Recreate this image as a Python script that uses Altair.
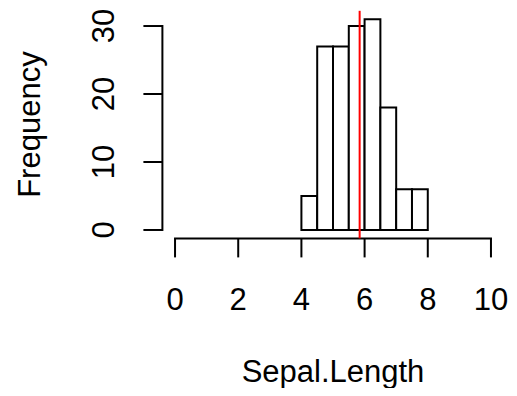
import altair as alt
import pandas as pd

# Histogram of Sepal.Length (iris)
bin_starts = [4.0, 4.5, 5.0, 5.5, 6.0, 6.5, 7.0, 7.5]
bin_ends = [4.5, 5.0, 5.5, 6.0, 6.5, 7.0, 7.5, 8.0]
counts = [5, 27, 27, 30, 31, 18, 6, 6]
mean_value = 5.843333
x_ticks = [0, 2, 4, 6, 8, 10]
y_ticks = [0, 10, 20, 30]
x_title = "Sepal.Length"
y_title = "Frequency"

W = 341.2
H = 227.6
FONT = "Liberation Sans, Arial, Helvetica, sans-serif"
FS = 31

xs = alt.Scale(domain=[-0.4, 10.4], nice=False, zero=False)
ys = alt.Scale(domain=[-1.24, 32.24], nice=False, zero=False)

bars_df = pd.DataFrame({"start": bin_starts, "end": bin_ends, "count": counts,
                        "base": [0] * len(counts)})
xt_df = pd.DataFrame({"v": x_ticks, "lab": [str(v) for v in x_ticks]})
yt_df = pd.DataFrame({"v": y_ticks, "lab": [str(v) for v in y_ticks]})
xline_df = pd.DataFrame({"a": [x_ticks[0]], "b": [x_ticks[-1]]})
yline_df = pd.DataFrame({"a": [y_ticks[0]], "b": [y_ticks[-1]]})
mean_df = pd.DataFrame({"m": [mean_value]})
xtitle_df = pd.DataFrame({"t": [x_title]})
ytitle_df = pd.DataFrame({"t": [y_title]})

bars = alt.Chart(bars_df).mark_rect(fill="white", stroke="black", strokeWidth=2).encode(
    x=alt.X("start:Q", scale=xs, axis=None),
    x2="end:Q",
    y=alt.Y("count:Q", scale=ys, axis=None),
    y2="base:Q",
)

mean_line = alt.Chart(mean_df).mark_rule(color="#FF0000", strokeWidth=2).encode(
    x=alt.X("m:Q", scale=xs, axis=None),
    y=alt.value(0),
    y2=alt.value(H),
)

x_axis_line = alt.Chart(xline_df).mark_rule(color="black", strokeWidth=2, strokeCap="square").encode(
    x=alt.X("a:Q", scale=xs, axis=None),
    x2="b:Q",
    y=alt.value(H),
)

x_tick_marks = alt.Chart(xt_df).mark_rule(color="black", strokeWidth=2).encode(
    x=alt.X("v:Q", scale=xs, axis=None),
    y=alt.value(H),
    y2=alt.value(H + 19),
)

x_labels = alt.Chart(xt_df).mark_text(font=FONT, fontSize=FS, baseline="alphabetic", align="center", color="black").encode(
    x=alt.X("v:Q", scale=xs, axis=None),
    y=alt.value(299.5),
    text="lab:N",
)

y_axis_line = alt.Chart(yline_df).mark_rule(color="black", strokeWidth=2, strokeCap="square").encode(
    y=alt.Y("a:Q", scale=ys, axis=None),
    y2="b:Q",
    x=alt.value(0),
)

y_tick_marks = alt.Chart(yt_df).mark_rule(color="black", strokeWidth=2).encode(
    y=alt.Y("v:Q", scale=ys, axis=None),
    x=alt.value(0),
    x2=alt.value(-19),
)

y_labels = alt.Chart(yt_df).mark_text(font=FONT, fontSize=FS, baseline="alphabetic", align="center", angle=270, color="black").encode(
    y=alt.Y("v:Q", scale=ys, axis=None),
    x=alt.value(-48.4),
    text="lab:N",
)

x_title_mark = alt.Chart(xtitle_df).mark_text(font=FONT, fontSize=FS, baseline="alphabetic", align="center", color="black").encode(
    x=alt.value(W / 2),
    y=alt.value(371),
    text="t:N",
)

y_title_mark = alt.Chart(ytitle_df).mark_text(font=FONT, fontSize=FS, baseline="alphabetic", align="center", angle=270, color="black").encode(
    x=alt.value(-122.4),
    y=alt.value(H / 2),
    text="t:N",
)

chart = alt.layer(
    bars, x_axis_line, x_tick_marks, x_labels, y_axis_line, y_tick_marks, y_labels,
    x_title_mark, y_title_mark, mean_line,
).properties(
    width=W,
    height=H,
    padding={"left": 154.4, "top": 2.8, "right": 5.4, "bottom": 149.6},
    autosize=alt.AutoSizeParams(type="none"),
    background="white",
).configure_view(stroke=None)

chart.save("out.html", embed_options={"renderer": "svg", "actions": False})
